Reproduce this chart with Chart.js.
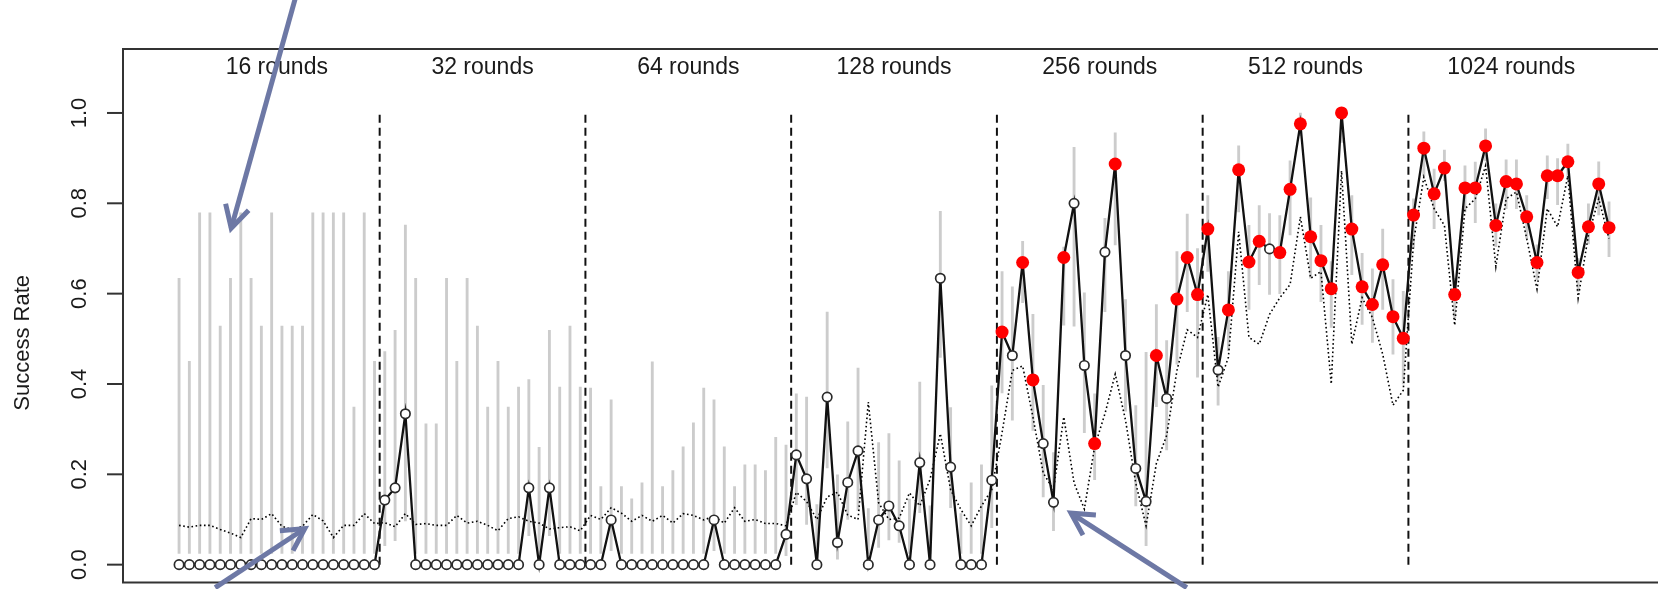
<!DOCTYPE html>
<html>
<head>
<meta charset="utf-8">
<script src="https://cdn.jsdelivr.net/npm/chart.js@4/dist/chart.umd.min.js"></script>
<style>
  body { margin: 0; background: #fff; }
  #wrap { width: 1658px; height: 589px; }
</style>
</head>
<body>
<div id="wrap"><canvas id="chart" width="1658" height="589"></canvas></div>
<script>
var groupLabels = ['16 rounds', '32 rounds', '64 rounds', '128 rounds', '256 rounds', '512 rounds', '1024 rounds'];
var perGroup = 20;
var yTicks = [0, 0.2, 0.4, 0.6, 0.8, 1.0];

// observed success rate per game (circles, solid line)
var successRate = [
  0, 0, 0, 0, 0, 0, 0, 0, 0, 0, 0, 0, 0, 0, 0, 0, 0, 0, 0, 0,
  0.143, 0.170, 0.334, 0, 0, 0, 0, 0, 0, 0, 0, 0, 0, 0, 0.170, 0, 0.170, 0, 0, 0,
  0, 0, 0.099, 0, 0, 0, 0, 0, 0, 0, 0, 0, 0.099, 0, 0, 0, 0, 0, 0, 0.067,
  0.243, 0.190, 0, 0.371, 0.049, 0.182, 0.252, 0, 0.099, 0.130, 0.086, 0, 0.226, 0, 0.634, 0.216, 0, 0, 0, 0.187,
  0.515, 0.463, 0.669, 0.409, 0.268, 0.138, 0.680, 0.800, 0.441, 0.268, 0.692, 0.887, 0.463, 0.213, 0.140, 0.463, 0.368, 0.588, 0.680, 0.598,
  0.743, 0.431, 0.564, 0.874, 0.670, 0.716, 0.699, 0.691, 0.831, 0.976, 0.726, 0.673, 0.611, 1.000, 0.743, 0.615, 0.576, 0.664, 0.549, 0.501,
  0.774, 0.922, 0.821, 0.878, 0.598, 0.834, 0.834, 0.927, 0.751, 0.848, 0.843, 0.770, 0.669, 0.861, 0.861, 0.892, 0.647, 0.748, 0.843, 0.746
];

// 1 = significant (red dot)
var significant = [
  0, 0, 0, 0, 0, 0, 0, 0, 0, 0, 0, 0, 0, 0, 0, 0, 0, 0, 0, 0,
  0, 0, 0, 0, 0, 0, 0, 0, 0, 0, 0, 0, 0, 0, 0, 0, 0, 0, 0, 0,
  0, 0, 0, 0, 0, 0, 0, 0, 0, 0, 0, 0, 0, 0, 0, 0, 0, 0, 0, 0,
  0, 0, 0, 0, 0, 0, 0, 0, 0, 0, 0, 0, 0, 0, 0, 0, 0, 0, 0, 0,
  1, 0, 1, 1, 0, 0, 1, 0, 0, 1, 0, 1, 0, 0, 0, 1, 0, 1, 1, 1,
  1, 0, 1, 1, 1, 1, 0, 1, 1, 1, 1, 1, 1, 1, 1, 1, 1, 1, 1, 1,
  1, 1, 1, 1, 1, 1, 1, 1, 1, 1, 1, 1, 1, 1, 1, 1, 1, 1, 1, 1
];

var lowerCI = [
  0.025, 0.025, 0.025, 0.025, 0.025, 0.025, 0.025, 0.025, 0.025, 0.025, 0.025, 0.025, 0.025, 0.025, 0.025, 0.025, 0.025, 0.025, 0.025, 0.025,
  0.042, 0.053, 0.097, 0.025, 0.025, 0.025, 0.025, 0.025, 0.025, 0.025, 0.025, 0.025, 0.025, 0.025, 0.064, 0.025, 0.064, 0.025, 0.025, 0.025,
  0.025, 0.025, 0.031, 0.025, 0.025, 0.025, 0.025, 0.025, 0.025, 0.025, 0.025, 0.025, 0.031, 0.025, 0.025, 0.025, 0.025, 0.025, 0.025, 0.020,
  0.133, 0.089, 0.025, 0.214, 0.012, 0.100, 0.120, 0.025, 0.038, 0.055, 0.049, 0.025, 0.115, 0.025, 0.459, 0.126, 0.025, 0.025, 0.025, 0.082,
  0.380, 0.320, 0.580, 0.297, 0.150, 0.075, 0.530, 0.528, 0.292, 0.188, 0.560, 0.708, 0.340, 0.130, 0.042, 0.350, 0.254, 0.444, 0.560, 0.415,
  0.649, 0.353, 0.474, 0.781, 0.565, 0.620, 0.598, 0.600, 0.730, 0.950, 0.634, 0.582, 0.525, 0.935, 0.642, 0.532, 0.492, 0.565, 0.466, 0.400,
  0.700, 0.861, 0.744, 0.850, 0.547, 0.781, 0.757, 0.894, 0.704, 0.788, 0.788, 0.722, 0.631, 0.810, 0.797, 0.854, 0.605, 0.710, 0.774, 0.682
];

var upperCI = [
  0.634, 0.450, 0.779, 0.779, 0.528, 0.634, 0.779, 0.634, 0.528, 0.779, 0.528, 0.528, 0.528, 0.779, 0.779, 0.779, 0.779, 0.349, 0.779, 0.450,
  0.472, 0.519, 0.752, 0.634, 0.312, 0.312, 0.634, 0.450, 0.634, 0.528, 0.349, 0.450, 0.349, 0.393, 0.410, 0.260, 0.519, 0.393, 0.528, 0.393,
  0.391, 0.173, 0.365, 0.173, 0.146, 0.181, 0.449, 0.173, 0.208, 0.261, 0.314, 0.391, 0.365, 0.261, 0.173, 0.221, 0.221, 0.208, 0.282, 0.265,
  0.378, 0.371, 0.133, 0.559, 0.199, 0.316, 0.435, 0.124, 0.270, 0.290, 0.230, 0.145, 0.404, 0.130, 0.782, 0.348, 0.113, 0.181, 0.221, 0.396,
  0.649, 0.615, 0.716, 0.554, 0.397, 0.248, 0.703, 0.924, 0.602, 0.378, 0.767, 0.956, 0.587, 0.352, 0.470, 0.576, 0.496, 0.693, 0.776, 0.700,
  0.817, 0.503, 0.649, 0.927, 0.751, 0.795, 0.777, 0.773, 0.894, 1.000, 0.812, 0.751, 0.671, 1.000, 0.817, 0.689, 0.655, 0.743, 0.631, 0.605,
  0.810, 0.958, 0.876, 0.918, 0.634, 0.883, 0.891, 0.965, 0.799, 0.896, 0.896, 0.817, 0.708, 0.905, 0.899, 0.931, 0.678, 0.799, 0.892, 0.803
];

// comparison rate (dotted line)
var baselineRate = [
  0.087, 0.083, 0.087, 0.087, 0.078, 0.070, 0.060, 0.102, 0.100, 0.113, 0.085, 0.078, 0.085, 0.111, 0.097, 0.060, 0.087, 0.087, 0.113, 0.091,
  0.093, 0.084, 0.113, 0.089, 0.091, 0.087, 0.087, 0.109, 0.092, 0.096, 0.087, 0.075, 0.102, 0.106, 0.096, 0.092, 0.079, 0.082, 0.084, 0.075,
  0.109, 0.100, 0.126, 0.114, 0.096, 0.109, 0.096, 0.109, 0.092, 0.113, 0.109, 0.099, 0.107, 0.092, 0.126, 0.096, 0.100, 0.091, 0.091, 0.086,
  0.160, 0.140, 0.100, 0.150, 0.160, 0.110, 0.100, 0.360, 0.137, 0.100, 0.103, 0.159, 0.130, 0.189, 0.290, 0.166, 0.122, 0.086, 0.130, 0.166,
  0.292, 0.430, 0.440, 0.327, 0.203, 0.166, 0.327, 0.181, 0.123, 0.261, 0.334, 0.422, 0.320, 0.180, 0.086, 0.224, 0.286, 0.430, 0.520, 0.503,
  0.598, 0.393, 0.459, 0.737, 0.503, 0.488, 0.554, 0.591, 0.620, 0.770, 0.634, 0.649, 0.400, 0.872, 0.488, 0.591, 0.547, 0.466, 0.353, 0.386,
  0.715, 0.858, 0.788, 0.751, 0.530, 0.788, 0.810, 0.883, 0.660, 0.810, 0.825, 0.722, 0.610, 0.788, 0.748, 0.861, 0.590, 0.730, 0.810, 0.722
];

// annotation arrows, in data units: [game index, rate]
var arrows = [
  { from: [12.30, 1.254], to: [6.07, 0.745] },
  { from: [4.51, -0.051], to: [13.22, 0.080] },
  { from: [98.96, -0.051], to: [87.70, 0.114] }
];

var FONT = "'Liberation Sans', Arial, sans-serif";
var ARROW_COLOR = '#6D78A5';

var games = successRate.map(function (v, i) { return i + 1; });

var separators = groupLabels.slice(1).map(function (g, i) {
  var x = (i + 1) * perGroup + 0.5;
  return {
    type: 'line',
    data: [{ x: x, y: 0 }, { x: x, y: 1 }],
    borderColor: '#111',
    borderWidth: 2,
    borderDash: [8, 5],
    pointRadius: 0,
    order: 2
  };
});

var decorations = {
  id: 'decorations',
  afterDatasetsDraw: function (chart) {
    var ctx = chart.ctx, a = chart.chartArea;
    var xs = chart.scales.x, ys = chart.scales.y;
    ctx.save();
    // plot frame (right side falls off the canvas)
    ctx.strokeStyle = '#333';
    ctx.lineWidth = 2;
    ctx.beginPath();
    ctx.moveTo(chart.width, a.top);
    ctx.lineTo(a.left, a.top);
    ctx.lineTo(a.left, a.bottom);
    ctx.lineTo(chart.width, a.bottom);
    ctx.stroke();

    // y ticks and rotated labels
    ctx.fillStyle = '#1a1a1a';
    ctx.font = '22px ' + FONT;
    ctx.textAlign = 'center';
    ctx.textBaseline = 'middle';
    yTicks.forEach(function (t) {
      var y = ys.getPixelForValue(t);
      ctx.beginPath();
      ctx.moveTo(a.left - 16, y);
      ctx.lineTo(a.left, y);
      ctx.stroke();
      ctx.save();
      ctx.translate(80, y);
      ctx.rotate(-Math.PI / 2);
      ctx.fillText(t.toFixed(1), 0, 0);
      ctx.restore();
    });
    ctx.save();
    ctx.translate(23, (ys.getPixelForValue(0) + ys.getPixelForValue(1)) / 2 + 4);
    ctx.rotate(-Math.PI / 2);
    ctx.fillText('Success Rate', 0, 0);
    ctx.restore();

    // group titles
    ctx.font = '23px ' + FONT;
    groupLabels.forEach(function (g, i) {
      var cx = xs.getPixelForValue(i * perGroup + (perGroup + 1) / 2);
      ctx.fillText(g, cx, ys.getPixelForValue(1.1));
    });
    ctx.restore();
  },
  afterDraw: function (chart) {
    var ctx = chart.ctx;
    var xs = chart.scales.x, ys = chart.scales.y;
    ctx.save();
    ctx.strokeStyle = ARROW_COLOR;
    ctx.lineWidth = 5;
    ctx.lineCap = 'butt';
    ctx.lineJoin = 'miter';
    arrows.forEach(function (ar) {
      var x0 = xs.getPixelForValue(ar.from[0]), y0 = ys.getPixelForValue(ar.from[1]);
      var x1 = xs.getPixelForValue(ar.to[0]), y1 = ys.getPixelForValue(ar.to[1]);
      var ang = Math.atan2(y0 - y1, x0 - x1);
      var len = 25, spread = Math.PI / 6.3;
      ctx.beginPath();
      ctx.moveTo(x0, y0);
      ctx.lineTo(x1, y1);
      ctx.stroke();
      ctx.beginPath();
      ctx.moveTo(x1 + len * Math.cos(ang - spread), y1 + len * Math.sin(ang - spread));
      ctx.lineTo(x1, y1);
      ctx.lineTo(x1 + len * Math.cos(ang + spread), y1 + len * Math.sin(ang + spread));
      ctx.stroke();
    });
    ctx.restore();
  }
};

new Chart(document.getElementById('chart'), {
  type: 'line',
  data: {
    datasets: [
      {
        type: 'bar',
        data: games.map(function (g, i) { return { x: g, y: [lowerCI[i], upperCI[i]] }; }),
        backgroundColor: '#CCCCCC',
        borderWidth: 0,
        barThickness: 2.2,
        grouped: false,
        order: 3
      },
      {
        data: games.map(function (g, i) { return { x: g, y: baselineRate[i] }; }),
        borderColor: '#000',
        borderWidth: 1.6,
        borderDash: [1.6, 2.6],
        pointRadius: 0,
        tension: 0,
        order: 2
      }
    ].concat(separators).concat([
      {
        data: games.map(function (g, i) { return { x: g, y: successRate[i] }; }),
        borderColor: '#111',
        borderWidth: 2.3,
        tension: 0,
        pointRadius: significant.map(function (s) { return s ? 6.5 : 4.7; }),
        pointBackgroundColor: significant.map(function (s) { return s ? '#FF0000' : '#FFFFFF'; }),
        pointBorderColor: significant.map(function (s) { return s ? '#FF0000' : '#2a2a2a'; }),
        pointBorderWidth: significant.map(function (s) { return s ? 0 : 1.7; }),
        order: 0
      }
    ])
  },
  options: {
    responsive: false,
    animation: false,
    layout: { padding: { left: 123, top: 49, right: 0, bottom: 2 } },
    plugins: { legend: { display: false }, tooltip: { enabled: false } },
    scales: {
      x: { type: 'linear', display: false, offset: false, min: -4.45, max: 144.13 },
      y: { type: 'linear', display: false, min: -0.0395, max: 1.1416 }
    }
  },
  plugins: [decorations]
});
</script>
</body>
</html>
